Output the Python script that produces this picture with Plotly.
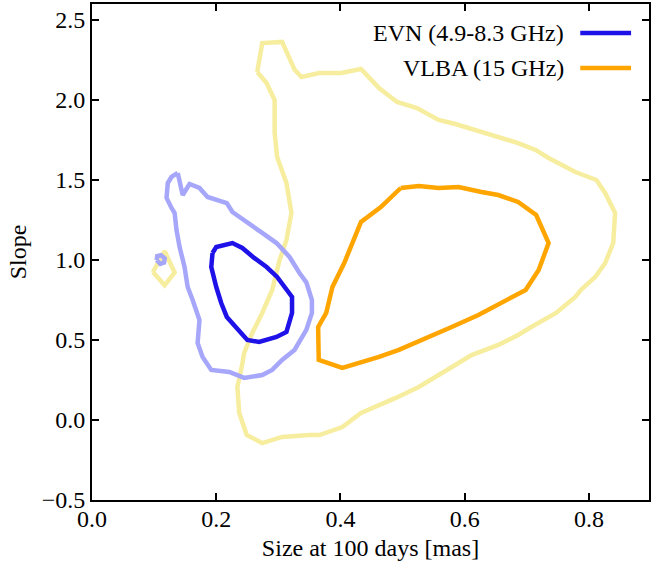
import plotly.graph_objects as go

# Credible-region contours in the (size at 100 days, slope) plane.
# EVN (4.9-8.3 GHz): inner and outer contour, plus a small isolated island.
evn_inner_x = [0.194, 0.200, 0.226, 0.242, 0.261, 0.281, 0.298, 0.314, 0.322, 0.322,
               0.313, 0.297, 0.269, 0.250, 0.233, 0.217, 0.208, 0.200, 0.192, 0.194]
evn_inner_y = [1.044, 1.081, 1.106, 1.075, 1.013, 0.956, 0.894, 0.813, 0.769, 0.669,
               0.550, 0.519, 0.488, 0.500, 0.575, 0.644, 0.731, 0.831, 0.956, 1.044]

evn_outer_x = [0.138, 0.128, 0.122, 0.120, 0.128, 0.133, 0.136, 0.141, 0.149, 0.154,
               0.162, 0.173, 0.170, 0.178, 0.192, 0.221, 0.245, 0.274, 0.290, 0.306,
               0.326, 0.345, 0.354, 0.354, 0.345, 0.334, 0.318, 0.297, 0.274, 0.250,
               0.226, 0.217, 0.200, 0.186, 0.173, 0.157, 0.146, 0.138]
evn_outer_y = [1.544, 1.519, 1.481, 1.388, 1.325, 1.294, 1.188, 1.081, 0.956, 0.831,
               0.750, 0.625, 0.481, 0.394, 0.313, 0.300, 0.263, 0.281, 0.313, 0.375,
               0.438, 0.563, 0.669, 0.750, 0.860, 0.919, 1.019, 1.106, 1.169, 1.231,
               1.300, 1.356, 1.375, 1.394, 1.450, 1.475, 1.406, 1.544]

evn_island_x = [0.104, 0.105, 0.111, 0.117, 0.116, 0.110, 0.104]
evn_island_y = [1.000, 1.024, 1.030, 1.010, 0.984, 0.976, 1.000]

# VLBA (15 GHz): inner and outer contour, plus a small isolated island.
vlba_inner_x = [0.497, 0.526, 0.558, 0.590, 0.627, 0.654, 0.686, 0.715, 0.735, 0.719,
                0.698, 0.654, 0.622, 0.579, 0.537, 0.494, 0.462, 0.403, 0.365, 0.364,
                0.377, 0.387, 0.406, 0.433, 0.465, 0.497]
vlba_inner_y = [1.450, 1.463, 1.450, 1.456, 1.425, 1.406, 1.363, 1.281, 1.106, 0.938,
                0.813, 0.719, 0.656, 0.581, 0.513, 0.438, 0.394, 0.325, 0.375, 0.581,
                0.669, 0.831, 0.981, 1.238, 1.331, 1.450]

vlba_outer_x = [0.266, 0.274, 0.306, 0.326, 0.337, 0.366, 0.401, 0.433, 0.462, 0.491,
                0.523, 0.558, 0.585, 0.606, 0.650, 0.686, 0.714, 0.735, 0.778, 0.812,
                0.826, 0.842, 0.839, 0.826, 0.810, 0.787, 0.778, 0.747, 0.707, 0.686,
                0.654, 0.611, 0.590, 0.563, 0.526, 0.489, 0.462, 0.433, 0.403, 0.366,
                0.350, 0.306, 0.274, 0.249, 0.237, 0.234, 0.241, 0.245, 0.258, 0.274,
                0.290, 0.302, 0.313, 0.321, 0.313, 0.298, 0.294, 0.294, 0.281, 0.266]
vlba_outer_y = [2.175, 2.356, 2.363, 2.190, 2.144, 2.169, 2.169, 2.194, 2.075, 1.988,
                1.950, 1.875, 1.850, 1.825, 1.775, 1.731, 1.688, 1.638, 1.550, 1.500,
                1.419, 1.294, 1.106, 0.981, 0.894, 0.813, 0.769, 0.669, 0.581, 0.531,
                0.469, 0.406, 0.356, 0.294, 0.206, 0.138, 0.094, 0.044, -0.044, -0.094,
                -0.094, -0.106, -0.144, -0.094, 0.044, 0.206, 0.331, 0.419, 0.544, 0.669,
                0.813, 1.000, 1.125, 1.294, 1.481, 1.644, 1.794, 2.000, 2.106, 2.175]

vlba_island_x = [0.098, 0.117, 0.133, 0.117, 0.098]
vlba_island_y = [0.925, 1.055, 0.922, 0.842, 0.925]

x_ticks = [0.0, 0.2, 0.4, 0.6, 0.8]
y_ticks = [-0.5, 0.0, 0.5, 1.0, 1.5, 2.0, 2.5]

legend_labels = ["EVN (4.9-8.3 GHz)", "VLBA (15 GHz)"]

DARK_BLUE = "#1f12e8"
PALE_BLUE = "#a6a6fa"
ORANGE = "#ffa500"
PALE_YELLOW = "#f7ed9f"
FONT = "Liberation Serif, Times New Roman, serif"
LW = 4.5

fig = go.Figure()


def contour(xs, ys, color):
    fig.add_trace(go.Scatter(x=xs, y=ys, mode="lines",
                             line=dict(color=color, width=LW),
                             hoverinfo="skip", showlegend=False))


# outer (paler) levels drawn first, inner levels on top
contour(vlba_outer_x, vlba_outer_y, PALE_YELLOW)
contour(vlba_island_x, vlba_island_y, PALE_YELLOW)
contour(evn_outer_x, evn_outer_y, PALE_BLUE)
contour(evn_island_x, evn_island_y, PALE_BLUE)
contour(evn_inner_x, evn_inner_y, DARK_BLUE)
contour(vlba_inner_x, vlba_inner_y, ORANGE)

# legend: label on the left, line sample on the right
legend_colors = [DARK_BLUE, ORANGE]
legend_rows = [0.9415, 0.871]
for label, color, yy in zip(legend_labels, legend_colors, legend_rows):
    fig.add_annotation(x=0.851, y=yy, xref="paper", yref="paper", text=label,
                       showarrow=False, xanchor="right", yanchor="middle",
                       font=dict(family=FONT, size=24, color="black"))
    fig.add_shape(type="line", xref="paper", yref="paper",
                  x0=0.8766, x1=0.9678, y0=yy, y1=yy,
                  line=dict(color=color, width=LW))

axis_common = dict(
    showgrid=False, zeroline=False, showline=True, linecolor="black", linewidth=2,
    mirror="allticks", ticks="inside", ticklen=7, tickwidth=1.5, tickcolor="black",
    tickfont=dict(family=FONT, size=24, color="black"),
)

fig.update_xaxes(range=[0.0, 0.8966], tickvals=x_ticks,
                 ticktext=[f"{v:.1f}" for v in x_ticks],
                 title=dict(text="Size at 100 days [mas]", standoff=8,
                            font=dict(family=FONT, size=24, color="black")),
                 ticklabelstandoff=-4,
                 **axis_common)
fig.update_yaxes(range=[-0.5, 2.6], tickvals=y_ticks,
                 ticktext=[f"{v:.1f}".replace("-", "\u2212") for v in y_ticks],
                 title=dict(text="Slope", standoff=8,
                            font=dict(family=FONT, size=24, color="black")),
                 **axis_common)

fig.update_layout(
    width=652, height=569,
    margin=dict(l=92, r=1, t=4, b=69),
    plot_bgcolor="white", paper_bgcolor="white",
    showlegend=False,
)

fig.write_html("out.html")
